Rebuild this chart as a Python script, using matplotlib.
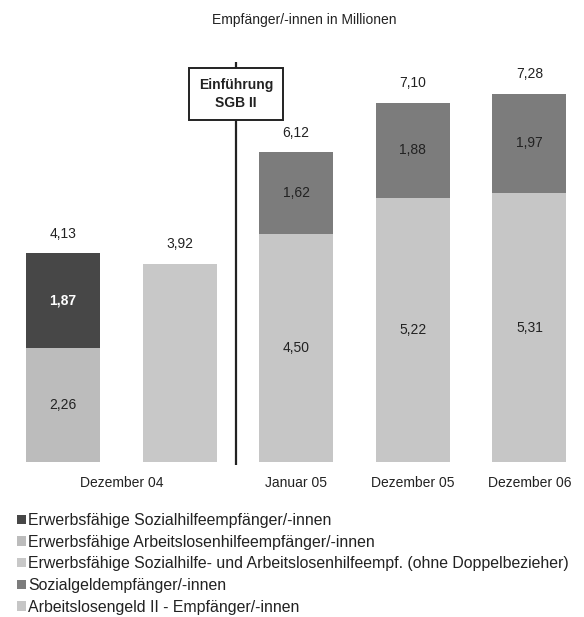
#!/usr/bin/env python3
# Empfänger/-innen in Millionen: SGB II reform, stacked bars

import matplotlib
matplotlib.use("Agg")
import matplotlib.pyplot as plt

plt.rcParams["font.family"] = ["Liberation Sans", "DejaVu Sans"]

# ---------------------------------------------------------------------------
# Data (millions)
# ---------------------------------------------------------------------------
tick_pos = [0.5, 2, 3, 4]
tick_labels = ["Dezember 04", "Januar 05", "Dezember 05", "Dezember 06"]

# Dezember 04, left bar
x_dez04 = [0]
arbeitslosenhilfe = [2.26]
sozialhilfe = [1.87]
# Dezember 04, right bar (ohne Doppelbezieher)
x_ohne = [1]
ohne_doppel = [3.92]
# after SGB II
x_sgb = [2, 3, 4]
alg2 = [4.50, 5.22, 5.31]
sozialgeld = [1.62, 1.88, 1.97]

totals_dez04 = [4.13]
totals_ohne = [3.92]
totals_sgb = [6.12, 7.10, 7.28]

legend_labels = [
    "Erwerbsfähige Sozialhilfeempfänger/-innen",
    "Erwerbsfähige Arbeitslosenhilfeempfänger/-innen",
    "Erwerbsfähige Sozialhilfe- und Arbeitslosenhilfeempf. (ohne Doppelbezieher)",
    "Sozialgeldempfänger/-innen",
    "Arbeitslosengeld II - Empfänger/-innen",
]


def de(v):
    return "{:.2f}".format(v).replace(".", ",")


# ---------------------------------------------------------------------------
# Layout (pixel based, 584 x 617 at 100 dpi)
# ---------------------------------------------------------------------------
W, H = 584, 617
base_px, top_px = 462, 40
px_per_unit = 50.6
x0_px, step_px = 63, 116.6

fig = plt.figure(figsize=(W / 100, H / 100), dpi=100)
fig.patch.set_facecolor("white")
ax = fig.add_axes([0, (H - base_px) / H, 1, (base_px - top_px) / H])
ax.set_xlim(-x0_px / step_px, (W - x0_px) / step_px)
ax.set_ylim(0, (base_px - top_px) / px_per_unit)
for s in ax.spines.values():
    s.set_visible(False)
ax.set_yticks([])

width = 74 / step_px
c_shi, c_alhi, c_ohne, c_sozg, c_alg2 = "#474747", "#bcbcbc", "#c8c8c8", "#7c7c7c", "#c6c6c6"

b_alhi = ax.bar(x_dez04, arbeitslosenhilfe, width, color=c_alhi)
b_shi = ax.bar(x_dez04, sozialhilfe, width, bottom=arbeitslosenhilfe, color=c_shi)
b_ohne = ax.bar(x_ohne, ohne_doppel, width, color=c_ohne)
b_alg2 = ax.bar(x_sgb, alg2, width, color=c_alg2)
b_sozg = ax.bar(x_sgb, sozialgeld, width, bottom=alg2, color=c_sozg)

# inner labels
ax.bar_label(b_alhi, labels=[de(v) for v in arbeitslosenhilfe],
             label_type="center", fontsize=10, color="#222222")
ax.bar_label(b_shi, labels=[de(v) for v in sozialhilfe],
             label_type="center", fontsize=10, color="white", fontweight="bold")
ax.bar_label(b_alg2, labels=[de(v) for v in alg2],
             label_type="center", fontsize=10, color="#222222")
ax.bar_label(b_sozg, labels=[de(v) for v in sozialgeld],
             label_type="center", fontsize=10, color="#222222")

# totals above bars
for cont, tot in [(b_shi, totals_dez04), (b_ohne, totals_ohne), (b_sozg, totals_sgb)]:
    ax.bar_label(cont, labels=[de(v) for v in tot], padding=9,
                 fontsize=10, color="#222222")

ax.set_xticks(tick_pos, tick_labels, fontsize=10, color="#222222")
ax.tick_params(axis="x", length=0, pad=10)

# SGB II separator line and box
line_x = (236 - x0_px) / step_px
ax.vlines(line_x, -0.06, (base_px - 62) / px_per_unit, color="#222222",
          lw=1.6, clip_on=False, zorder=1)
ax.text(line_x, (base_px - 94) / px_per_unit, "Einführung\nSGB II",
        ha="center", va="center", fontsize=10, fontweight="bold",
        color="#222222", linespacing=1.4, zorder=3,
        bbox=dict(boxstyle="square,pad=0.7", fc="white", ec="#222222", lw=1.4))

fig.text(304 / W, 1 - 20 / H, "Empfänger/-innen in Millionen",
         ha="center", va="center", fontsize=10, color="#222222")

handles = [b_shi, b_alhi, b_ohne, b_sozg, b_alg2]
fig.legend(handles, legend_labels, loc="upper left",
           bbox_to_anchor=(17 / W, 1 - 513 / H), frameon=False,
           fontsize=11.4, handlelength=0.55, handleheight=0.55,
           handletextpad=0.15, labelspacing=0.42, borderpad=0,
           borderaxespad=0, labelcolor="#222222")

fig.savefig("out.png", dpi=100, facecolor="white")
